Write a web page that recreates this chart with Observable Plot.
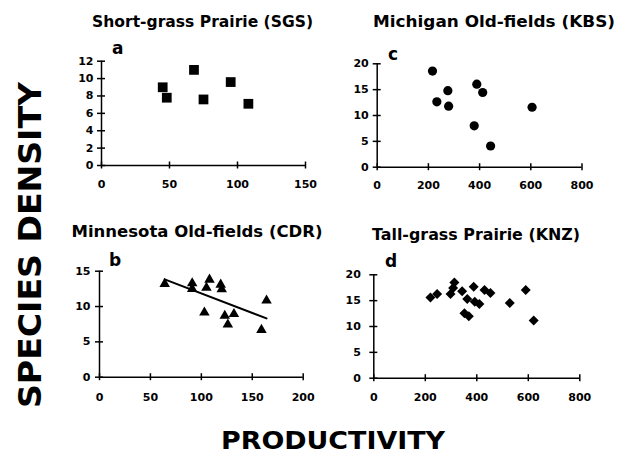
<!DOCTYPE html>
<html><head><meta charset="utf-8">
<script src="https://cdn.jsdelivr.net/npm/d3@7"></script>
<script src="https://cdn.jsdelivr.net/npm/@observablehq/plot@0.6"></script>
<style>
body{margin:0;background:#fff;}
#wrap{position:relative;width:617px;height:463px;overflow:hidden;background:#fff;}
#wrap svg{position:absolute;overflow:visible;}
</style></head><body><div id="wrap"></div>
<script>
// ---- data ----
const titles = ["Short-grass Prairie (SGS)", "Minnesota Old-fields (CDR)", "Michigan Old-fields (KBS)", "Tall-grass Prairie (KNZ)"];
const panelLetters = ["a", "b", "c", "d"];
const yAxisTitle = "SPECIES DENSITY";
const xAxisTitle = "PRODUCTIVITY";

// a: Short-grass Prairie (SGS)
const sgsProd = [45, 48, 68, 75, 95, 108];
const sgsRich = [9.0, 7.8, 11.0, 7.6, 9.6, 7.1];
const sgsXTicks = [0, 50, 100, 150];
const sgsYTicks = [0, 2, 4, 6, 8, 10, 12];

// b: Minnesota Old-fields (CDR)
const cdrProd = [64, 91, 91, 108, 105, 119, 120, 103, 123, 132, 126, 159, 164];
const cdrRich = [13.2, 13.3, 12.5, 13.8, 12.65, 13.1, 12.45, 9.15, 8.7, 8.95, 7.45, 6.7, 10.85];
const cdrXTicks = [0, 50, 100, 150, 200];
const cdrYTicks = [0, 5, 10, 15];

// c: Michigan Old-fields (KBS)
const kbsProd = [216, 233, 276, 279, 389, 412, 379, 443, 605];
const kbsRich = [18.6, 12.65, 14.8, 11.8, 16.05, 14.45, 8.0, 4.1, 11.6];
const kbsXTicks = [0, 200, 400, 600, 800];
const kbsYTicks = [0, 5, 10, 15, 20];

// d: Tall-grass Prairie (KNZ)
const knzProd = [220, 246, 298, 313, 308, 343, 388, 363, 392, 410, 430, 453, 352, 369, 528, 590, 621];
const knzRich = [15.6, 16.3, 16.3, 18.5, 17.45, 16.8, 17.7, 15.3, 14.8, 14.35, 17.05, 16.5, 12.55, 12.0, 14.55, 17.05, 11.15];
const knzXTicks = [0, 200, 400, 600, 800];
const knzYTicks = [0, 5, 10, 15, 20];

// ---- drawing ----
const FONT = "DejaVu Sans, sans-serif";
const wrap = document.getElementById("wrap");

function toRows(xs, ys) { return xs.map((x, i) => ({x, y: ys[i]})); }

function panel(cfg) {
  const rows = toRows(cfg.xs, cfg.ys);
  const mL = cfg.x0 - cfg.left, mR = cfg.left + cfg.w - cfg.x1;
  const mT = cfg.y1 - cfg.top, mB = cfg.top + cfg.h - cfg.y0;
  const marks = [
    Plot.ruleX([0], {stroke: "black", strokeWidth: 1.5}),
    Plot.ruleY([0], {stroke: "black", strokeWidth: 1.5}),
    Plot.axisY(cfg.yTicks, {tickSize: 8, dx: 4, tickFormat: () => "", label: null, strokeWidth: 1.5}),
    Plot.axisY(cfg.yTicks, {tickSize: 0, tickPadding: cfg.yPad, label: null, fill: "black"}),
    Plot.axisX(cfg.xTicks, {tickSize: 7, dy: -3.5, tickFormat: () => "", label: null, strokeWidth: 1.5}),
    Plot.axisX(cfg.xTicks, {tickSize: 0, tickPadding: cfg.xPad, label: null, fill: "black"}),
  ];
  if (cfg.regression) marks.push(Plot.linearRegressionY(rows, {x: "x", y: "y", ci: 0, stroke: "black", strokeWidth: 2}));
  marks.push(Plot.dot(rows, {x: "x", y: "y", symbol: cfg.symbol, r: cfg.r, fill: "black", stroke: "none"}));
  const svg = Plot.plot({
    width: cfg.w, height: cfg.h,
    marginLeft: mL, marginRight: mR, marginTop: mT, marginBottom: mB,
    x: {domain: cfg.xDomain},
    y: {domain: cfg.yDomain},
    style: {fontFamily: FONT, fontSize: "11px", fontWeight: "bold", background: "transparent", color: "black", overflow: "visible"},
    marks
  });
  svg.style.left = cfg.left + "px";
  svg.style.top = cfg.top + "px";
  wrap.appendChild(svg);
}

panel({xs: sgsProd, ys: sgsRich, xTicks: sgsXTicks, yTicks: sgsYTicks, xDomain: [0, 150], yDomain: [0, 12],
  symbol: "square", r: 5.5, left: 55, top: 40, w: 270, h: 170, x0: 101, x1: 305, y0: 165, y1: 60.7, xPad: 15, yPad: 8});
panel({xs: kbsProd, ys: kbsRich, xTicks: kbsXTicks, yTicks: kbsYTicks, xDomain: [0, 800], yDomain: [0, 20],
  symbol: "circle", r: 4.6, left: 330, top: 40, w: 280, h: 170, x0: 376.7, x1: 581.5, y0: 166.7, y1: 63.3, xPad: 13.5, yPad: 8.5});
panel({xs: cdrProd, ys: cdrRich, xTicks: cdrXTicks, yTicks: cdrYTicks, xDomain: [0, 200], yDomain: [0, 15],
  symbol: "triangle", r: 3.9, regression: true, left: 55, top: 250, w: 270, h: 175, x0: 99, x1: 302.7, y0: 376.7, y1: 270.7, xPad: 16, yPad: 9});
panel({xs: knzProd, ys: knzRich, xTicks: knzXTicks, yTicks: knzYTicks, xDomain: [0, 800], yDomain: [0, 20],
  symbol: d3.symbolDiamond2, r: 4.5, left: 330, top: 250, w: 280, h: 175, x0: 373.3, x1: 579.3, y0: 377.7, y1: 274.3, xPad: 15, yPad: 13});

// ---- annotation layer (titles, panel letters, axis titles) ----
const ann = d3.select(wrap).append("svg")
  .attr("width", 617).attr("height", 463)
  .style("left", "0px").style("top", "0px")
  .style("font-family", FONT).style("font-weight", "bold").attr("fill", "black");

const titlePos = [
  {cx: 202.5, base: 26.7, len: 221},
  {cx: 197, base: 236.7, len: 251},
  {cx: 494, base: 27, len: 242},
  {cx: 476, base: 240, len: 208}
];
titles.forEach((t, i) => {
  ann.append("text").attr("x", titlePos[i].cx).attr("y", titlePos[i].base)
    .attr("text-anchor", "middle").attr("font-size", 15.5)
    .attr("textLength", titlePos[i].len).attr("lengthAdjust", "spacingAndGlyphs").text(t);
});
const letterPos = [{x: 112, y: 54}, {x: 109, y: 266}, {x: 388, y: 60}, {x: 385, y: 267}];
panelLetters.forEach((l, i) => {
  ann.append("text").attr("x", letterPos[i].x).attr("y", letterPos[i].y).attr("font-size", 17).text(l);
});
ann.append("text").attr("transform", "translate(41,245) rotate(-90)")
  .attr("text-anchor", "middle").attr("font-size", 32)
  .attr("textLength", 326).attr("lengthAdjust", "spacingAndGlyphs").text(yAxisTitle);
ann.append("text").attr("x", 333).attr("y", 449.3)
  .attr("text-anchor", "middle").attr("font-size", 24)
  .attr("textLength", 224).attr("lengthAdjust", "spacingAndGlyphs").text(xAxisTitle);
</script></body></html>
